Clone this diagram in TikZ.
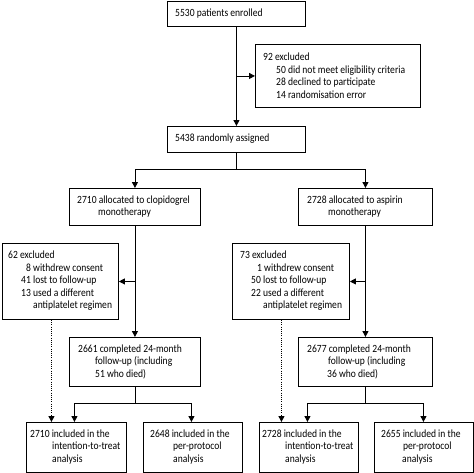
\documentclass[tikz,border=0pt]{standalone}
\usepackage{fontspec}
\setmainfont{Carlito}[FakeStretch=0.87]
\usetikzlibrary{arrows.meta,calc}
\tikzset{
  box/.style={draw, line width=0.9pt, inner sep=0pt},
  txt/.style={inner sep=0pt, align=left, font=\fontsize{11}{12.5}\selectfont},
  arr/.style={line width=0.9pt, -{Triangle[length=6pt,width=6pt]}},
  ln/.style={line width=0.9pt},
  dotarr/.style={line width=0.9pt, dash pattern=on 1pt off 1.2pt, -{Triangle[length=6pt,width=6pt]}},
}
\newcommand\bx[7]{%
  \node[box, minimum width=#4pt-#2pt, minimum height=#5pt-#3pt, anchor=north west] (#1) at (#2pt,-#3pt) {};
  \node[txt, anchor=west] (#1t) at (#6pt,{-(#3+#5)/2*1pt}) {#7};
}
\begin{document}
\begin{tikzpicture}
\useasboundingbox (0,0) rectangle (474pt,-472pt);
\bx{enr}{167}{1}{305}{26}{175}{5530 patients enrolled}
\bx{exc}{255}{44}{420}{107}{263}{92 excluded\\\hspace*{13pt}50 did not meet eligibility criteria\\\hspace*{13pt}28 declined to participate\\\hspace*{13pt}14 randomisation error}
\bx{rnd}{167}{126}{305}{152}{175}{5438 randomly assigned}
\bx{clo}{69}{188}{200}{225}{77}{2710 allocated to clopidogrel\\\hspace*{21pt}monotherapy}
\bx{asp}{298}{188}{432}{225}{307}{2728 allocated to aspirin\\\hspace*{21pt}monotherapy}
\bx{exl}{2}{243}{118}{319}{8}{62 excluded\\\hspace*{18pt}8 withdrew consent\\\hspace*{13pt}41 lost to follow-up\\\hspace*{13pt}13 used a different\\\hspace*{25pt}antiplatelet regimen}
\bx{exr}{232}{243}{349}{319}{240}{73 excluded\\\hspace*{17pt}1 withdrew consent\\\hspace*{11pt}50 lost to follow-up\\\hspace*{11pt}22 used a different\\\hspace*{23pt}antiplatelet regimen}
\bx{cml}{69}{337}{200}{386}{78}{2661 completed 24-month\\\hspace*{17pt}follow-up (including\\\hspace*{17pt}51 who died)}
\bx{cmr}{298}{337}{432}{386}{307}{2677 completed 24-month\\\hspace*{21pt}follow-up (including\\\hspace*{20pt}36 who died)}
\bx{bone}{26}{422}{126}{471.5}{30}{2710 included in the\\\hspace*{22pt}intention-to-treat\\\hspace*{22pt}analysis}
\bx{btwo}{143}{422}{242}{471.5}{150}{2648 included in the\\\hspace*{23pt}per-protocol\\\hspace*{23pt}analysis}
\bx{bthree}{259}{422}{358}{471.5}{262}{2728 included in the\\\hspace*{23pt}intention-to-treat\\\hspace*{23pt}analysis}
\bx{bfour}{374}{422}{473}{471.5}{381}{2655 included in the\\\hspace*{22pt}per-protocol\\\hspace*{21pt}analysis}
% connectors
\draw[arr] (enr.south) -- (rnd.north);
\draw[arr] (enr.south |- exc.west) -- (exc.west);
\coordinate (rj) at ($(rnd.south)+(0,-17pt)$);
\draw[ln] (rnd.south) -- (rj);
\draw[arr] (rj) -| (clo.north);
\draw[arr] (rj) -| (asp.north);
\draw[arr] (clo.south) -- (cml.north);
\draw[arr] (clo.south |- exl.east) -- (exl.east);
\draw[arr] (asp.south) -- (cmr.north);
\draw[arr] (asp.south |- exr.east) -- (exr.east);
\coordinate (lj) at ($(cml.south)+(0,-17pt)$);
\coordinate (rj2) at ($(cmr.south)+(0,-17pt)$);
\coordinate (bonein) at ([xshift=-2pt]bone.north);
\coordinate (btwoin) at ([xshift=-1.5pt]btwo.north);
\coordinate (bthreein) at ([xshift=-1.5pt]bthree.north);
\coordinate (bfourin) at ([xshift=-0.5pt]bfour.north);
\coordinate (bonedot) at ([xshift=-25pt]bone.north);
\coordinate (bthreedot) at ([xshift=-27.5pt]bthree.north);
\draw[ln] (cml.south) -- (lj);
\draw[arr] (lj) -| (bonein);
\draw[arr] (lj) -| (btwoin);
\draw[ln] (cmr.south) -- (rj2);
\draw[arr] (rj2) -| (bthreein);
\draw[arr] (rj2) -| (bfourin);
\draw[dotarr] (exl.south -| bonedot) -- (bonedot);
\draw[dotarr] (exr.south -| bthreedot) -- (bthreedot);
\end{tikzpicture}
\end{document}
